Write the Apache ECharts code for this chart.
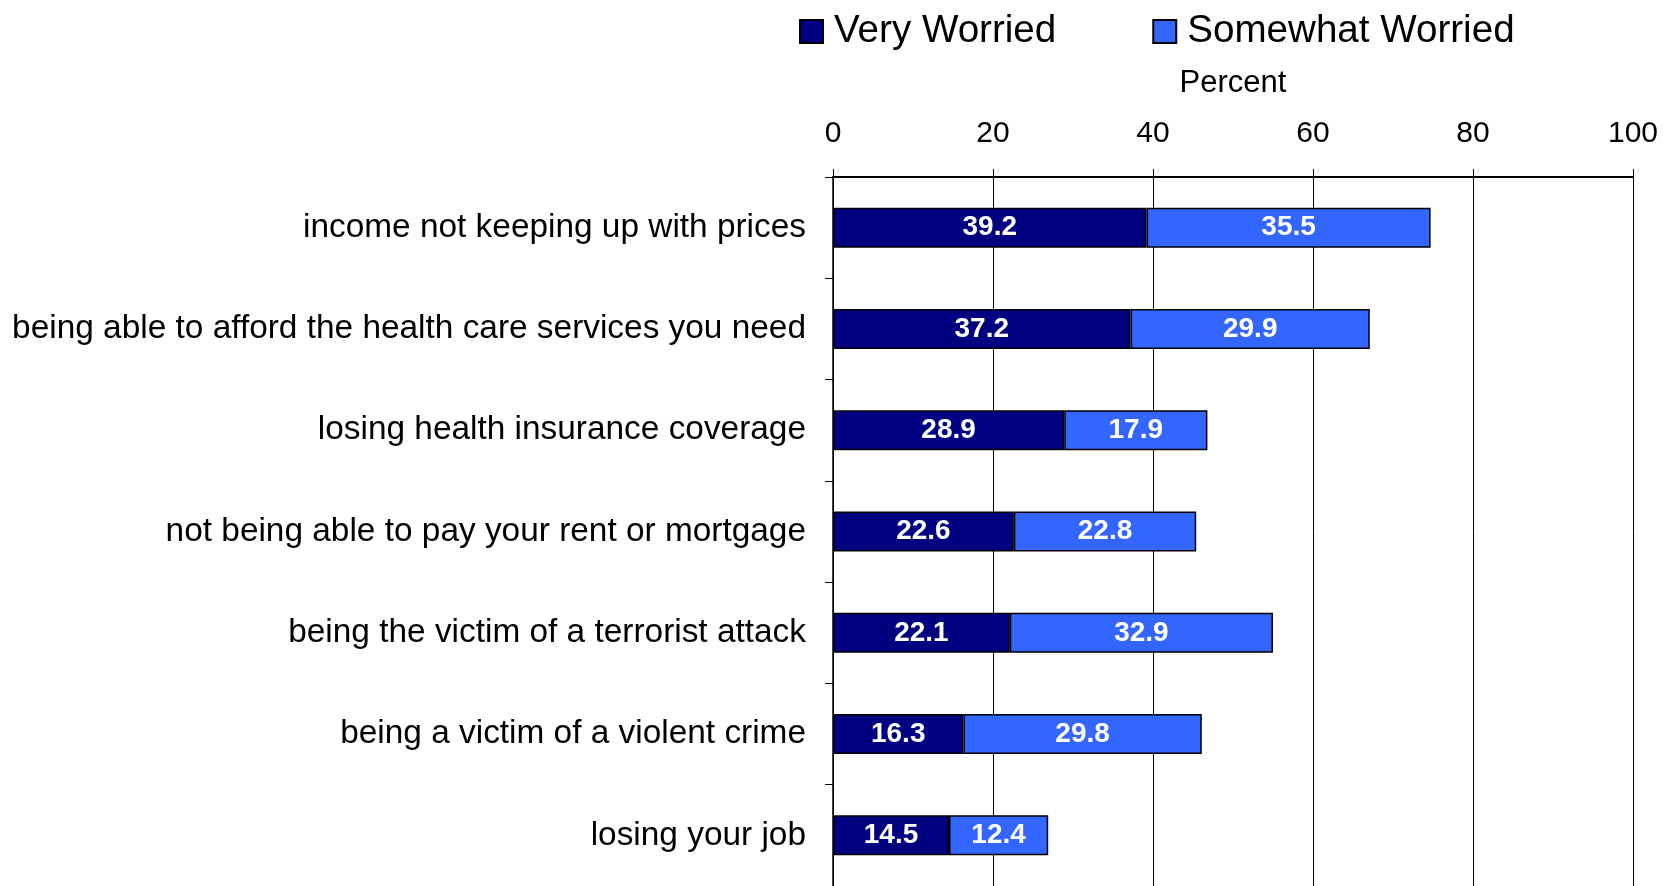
<!DOCTYPE html>
<html>
<head>
<meta charset="utf-8">
<script src="https://cdn.jsdelivr.net/npm/echarts@6/dist/echarts.min.js"></script>
<style>
  html, body { margin: 0; padding: 0; background: #fff; }
  #chart { width: 1663px; height: 886px; }
</style>
</head>
<body>
<div id="chart"></div>
<script>
const categories = [
  'income not keeping up with prices',
  'being able to afford the health care services you need',
  'losing health insurance coverage',
  'not being able to pay your rent or mortgage',
  'being the victim of a terrorist attack',
  'being a victim of a violent crime',
  'losing your job'
]
const veryWorried = [39.2, 37.2, 28.9, 22.6, 22.1, 16.3, 14.5]
const somewhatWorried = [35.5, 29.9, 17.9, 22.8, 32.9, 29.8, 12.4]
const seriesNames = ['Very Worried', 'Somewhat Worried']

const font = 'Liberation Sans, Arial, sans-serif'

const chart = echarts.init(document.getElementById('chart'), null, { renderer: 'canvas' })

const barLabel = {
  show: true,
  position: 'inside',
  color: '#fff',
  fontWeight: 'bold',
  fontSize: 28,
  fontFamily: font,
  formatter: p => p.value.toFixed(1)
}

chart.setOption({
  animation: false,
  backgroundColor: '#fff',
  legend: {
    left: 794,
    top: 7,
    itemWidth: 23,
    itemHeight: 23,
    itemGap: 96,
    icon: 'rect',
    textStyle: { fontSize: 38.6, fontFamily: font, color: '#000', padding: [0, 0, 0, 6] },
    data: seriesNames
  },
  grid: {
    left: 833,
    top: 177,
    width: 800,
    height: 712
  },
  xAxis: {
    type: 'value',
    position: 'top',
    min: 0,
    max: 100,
    interval: 20,
    name: 'Percent',
    nameLocation: 'middle',
    nameGap: 78,
    nameTextStyle: { fontSize: 31, fontFamily: font, color: '#000' },
    axisLine: { show: true, lineStyle: { color: '#000', width: 2 } },
    axisTick: { show: true, length: 8, lineStyle: { color: '#000', width: 1 } },
    axisLabel: { fontSize: 30, fontFamily: font, color: '#000', margin: 28 },
    splitLine: { show: true, lineStyle: { color: '#000', width: 1 } }
  },
  yAxis: {
    type: 'category',
    inverse: true,
    data: categories,
    axisLine: { show: true, lineStyle: { color: '#000', width: 1.5 } },
    axisTick: { show: true, length: 8, lineStyle: { color: '#000', width: 1 } },
    axisLabel: { fontSize: 33.4, fontFamily: font, color: '#000', margin: 27 }
  },
  series: [
    {
      name: seriesNames[0],
      type: 'bar',
      stack: 'worry',
      barWidth: 40,
      data: veryWorried,
      itemStyle: { color: '#000080', borderColor: '#000', borderWidth: 1.5 },
      label: barLabel
    },
    {
      name: seriesNames[1],
      type: 'bar',
      stack: 'worry',
      barWidth: 40,
      data: somewhatWorried,
      itemStyle: { color: '#3366FF', borderColor: '#000', borderWidth: 1.5 },
      label: barLabel
    }
  ]
})
</script>
</body>
</html>
